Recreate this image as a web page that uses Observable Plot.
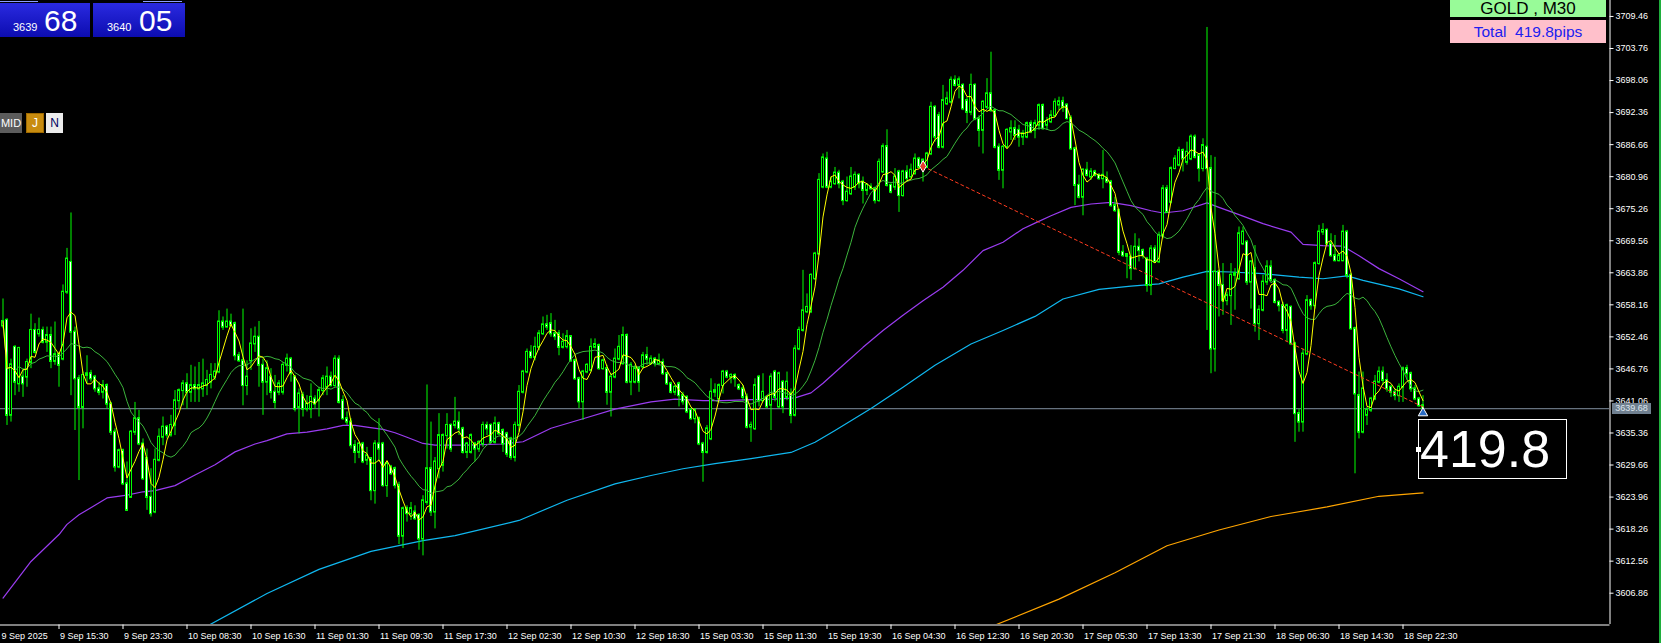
<!DOCTYPE html>
<html><head><meta charset="utf-8">
<script src="https://cdn.jsdelivr.net/npm/d3@7"></script>
<script src="https://cdn.jsdelivr.net/npm/@observablehq/plot@0.6"></script>
<style>
html,body{margin:0;padding:0;background:#000;overflow:hidden;}
#wrap{position:relative;width:1661px;height:643px;}
#chart svg{display:block}
.ov{position:absolute;font-family:"Liberation Sans",Arial,sans-serif;box-sizing:border-box;white-space:nowrap;}
</style></head><body>
<div id="wrap"><div id="chart"></div>
<div class="ov" style="left:0;top:1px;width:38px;height:1px;background:#8c9cff"></div>
<div class="ov" style="left:143px;top:1px;width:39px;height:1px;background:#8c9cff"></div>
<div class="ov" style="left:0;top:3px;width:90px;height:34px;background:linear-gradient(#2a2ae0,#0c0cb0);color:#fff">
  <span class="ov" style="left:13px;top:18px;font-size:11px">3639</span>
  <span class="ov" style="left:44px;top:3px;font-size:30px;line-height:30px">68</span></div>
<div class="ov" style="left:93px;top:3px;width:92px;height:34px;background:linear-gradient(#2a2ae0,#0c0cb0);color:#fff">
  <span class="ov" style="left:14px;top:18px;font-size:11px">3640</span>
  <span class="ov" style="left:46px;top:3px;font-size:30px;line-height:30px">05</span></div>
<div class="ov" style="left:0;top:113px;width:22px;height:20px;background:#5c5c5c;color:#fff;font-size:11px;line-height:20px;text-align:center">MID</div>
<div class="ov" style="left:26px;top:113px;width:18px;height:20px;background:#c88c10;border:1px solid #a06a00;color:#fff;font-size:12px;line-height:18px;text-align:center">J</div>
<div class="ov" style="left:46px;top:113px;width:17px;height:20px;background:#ececec;color:#000060;font-size:12px;line-height:20px;text-align:center">N</div>
<div class="ov" style="left:1450px;top:0;width:156px;height:17px;background:#98fb98;color:#000;font-size:17px;line-height:17px;text-align:center">GOLD , M30</div>
<div class="ov" style="left:1450px;top:20px;width:156px;height:23px;background:#ffc0cb;color:#2020f0;font-size:15.5px;line-height:23px;text-align:center">Total&nbsp; 419.8pips</div>
<div class="ov" style="left:1612px;top:403px;width:39px;height:11px;background:#708090;color:#dfe6ee;font-size:9px;line-height:11px;text-align:center">3639.68</div>
<div class="ov" style="left:1418px;top:419px;width:149px;height:60px;border:1px solid #fff;background:#000;color:#fff;font-size:52px;line-height:58px;padding-left:1px">419.8</div>
<div class="ov" style="left:1416px;top:447px;width:5px;height:5px;background:#fff"></div>
<div class="ov" style="left:1659px;top:0;width:2px;height:643px;background:#1fae3c"></div>
</div>
<script>
const open = [
3654.4,3655.4,3638.5,3650.6,3644.1,3645.3,3645.3,3647.9,3653.6,3653.0,
3653.6,3651.5,3652.7,3648.1,3649.3,3648.5,3660.4,3665.7,3653.3,3645.0,
3639.9,3645.6,3645.9,3645.3,3643.2,3642.6,3643.8,3640.5,3635.5,3629.3,
3632.2,3626.3,3623.9,3635.5,3637.9,3633.4,3630.8,3623.9,3621.3,3630.5,
3634.6,3636.4,3635.0,3636.7,3641.1,3642.9,3644.1,3642.6,3643.8,3643.2,
3643.2,3643.8,3644.4,3645.3,3646.2,3655.1,3654.2,3655.1,3654.8,3649.1,
3648.2,3643.8,3648.2,3651.2,3652.4,3647.4,3644.4,3645.3,3642.6,3642.6,
3642.6,3647.4,3648.5,3645.3,3639.9,3642.0,3639.6,3639.6,3641.4,3641.1,
3642.9,3643.5,3645.3,3643.8,3648.5,3641.1,3637.9,3637.3,3633.1,3631.9,
3633.4,3630.5,3630.8,3625.1,3633.4,3633.4,3626.0,3629.3,3629.0,3626.0,
3617.0,3621.9,3621.0,3621.3,3620.7,3616.5,3623.0,3629.0,3621.3,3629.0,
3629.6,3634.9,3636.7,3636.7,3637.3,3636.1,3631.9,3631.9,3633.4,3632.5,
3633.4,3636.7,3636.7,3633.7,3637.0,3635.8,3635.2,3634.3,3631.0,3636.7,
3642.6,3646.2,3649.7,3648.8,3650.6,3653.0,3654.6,3654.8,3653.0,3653.0,
3650.6,3650.7,3652.5,3648.2,3645.0,3640.9,3646.2,3646.5,3650.6,3650.9,
3646.8,3646.8,3642.6,3645.3,3648.5,3647.7,3652.7,3644.4,3644.4,3646.8,
3647.1,3649.1,3647.7,3648.5,3647.7,3647.9,3645.9,3644.1,3642.6,3644.1,
3642.0,3641.7,3639.4,3637.9,3637.9,3633.4,3631.9,3634.3,3642.6,3641.4,
3643.8,3646.2,3645.3,3645.6,3643.8,3643.2,3641.7,3636.4,3636.1,3645.3,
3641.1,3641.7,3640.3,3646.2,3640.0,3644.4,3641.7,3642.3,3638.5,3650.3,
3653.6,3656.9,3656.9,3662.8,3667.2,3679.1,3684.1,3679.1,3679.7,3681.6,
3680.0,3676.7,3677.9,3679.1,3681.2,3680.0,3678.5,3679.1,3678.8,3676.7,
3681.8,3686.3,3679.4,3679.1,3681.8,3677.6,3681.8,3680.9,3681.5,3684.1,
3682.6,3682.6,3685.0,3693.3,3691.8,3686.2,3693.9,3694.2,3698.1,3697.2,
3697.2,3694.5,3692.4,3697.2,3691.2,3689.2,3693.3,3695.7,3692.7,3686.2,
3682.1,3686.2,3688.9,3689.5,3689.2,3688.0,3688.0,3690.4,3689.2,3690.1,
3693.6,3690.1,3690.7,3691.8,3693.7,3694.3,3693.7,3691.3,3685.9,3679.4,
3677.3,3682.1,3680.9,3681.8,3681.2,3680.6,3680.6,3680.0,3675.8,3674.9,
3667.5,3667.1,3666.6,3664.6,3668.4,3667.8,3666.3,3661.6,3668.1,3665.8,
3670.5,3678.8,3676.4,3682.4,3683.0,3685.6,3683.5,3684.1,3688.0,3684.7,
3682.4,3686.2,3682.4,3650.3,3664.0,3661.6,3658.9,3659.8,3663.4,3662.8,
3669.0,3669.3,3662.2,3664.6,3654.8,3657.2,3662.2,3664.9,3662.5,3658.6,
3658.0,3653.6,3657.7,3651.2,3638.8,3637.3,3649.4,3658.9,3658.0,3665.5,
3671.1,3671.4,3669.0,3666.9,3666.0,3666.0,3671.1,3663.4,3653.9,3642.0,
3635.5,3638.5,3639.4,3641.4,3644.4,3646.2,3644.7,3643.5,3642.6,3642.0,
3643.5,3646.8,3645.9,3643.2,3641.4,3640.2];
const high = [
3659.2,3655.7,3648.5,3650.9,3650.6,3646.8,3648.5,3656.5,3654.8,3655.8,
3654.2,3654.2,3654.2,3655.1,3649.7,3661.7,3668.2,3674.5,3654.2,3645.6,
3646.2,3649.1,3646.5,3645.6,3644.4,3644.7,3644.1,3640.8,3636.1,3632.5,
3632.5,3630.2,3635.8,3640.8,3639.4,3634.3,3632.5,3629.0,3632.5,3636.1,
3638.2,3636.7,3638.5,3642.9,3643.2,3644.7,3645.9,3647.4,3647.1,3647.9,
3648.5,3646.5,3647.7,3647.7,3657.1,3656.0,3657.4,3656.5,3655.1,3649.7,
3657.4,3648.2,3653.9,3654.2,3655.2,3648.5,3648.2,3646.8,3645.6,3644.7,
3647.9,3649.4,3648.8,3645.6,3643.2,3642.6,3642.0,3644.1,3642.0,3643.5,
3645.6,3647.1,3646.2,3649.1,3649.1,3642.0,3639.1,3637.9,3634.0,3633.7,
3633.7,3632.8,3631.0,3634.0,3637.9,3633.7,3630.2,3629.6,3629.3,3626.6,
3622.2,3622.4,3623.0,3622.4,3621.0,3624.2,3643.9,3637.3,3631.0,3638.8,
3635.2,3638.8,3637.0,3641.7,3639.1,3636.4,3633.7,3635.2,3633.7,3634.0,
3637.3,3637.3,3637.0,3638.2,3637.3,3636.1,3635.5,3634.6,3637.3,3643.8,
3646.5,3650.3,3650.9,3652.4,3653.6,3656.0,3656.3,3656.6,3655.4,3653.6,
3653.0,3653.6,3652.7,3648.5,3645.3,3646.5,3647.7,3652.1,3652.1,3651.2,
3648.5,3647.4,3645.9,3650.3,3652.7,3654.2,3653.0,3647.9,3647.4,3647.1,
3649.7,3650.6,3649.1,3648.8,3649.4,3648.5,3646.2,3644.4,3643.8,3644.4,
3642.6,3642.0,3639.7,3639.7,3638.2,3633.7,3636.7,3645.0,3644.1,3644.1,
3646.5,3646.5,3645.9,3645.9,3644.1,3643.8,3642.3,3637.3,3645.0,3645.6,
3645.9,3642.0,3645.9,3646.5,3646.2,3644.7,3646.2,3643.2,3650.9,3654.2,
3664.3,3660.1,3663.7,3667.5,3681.5,3685.0,3685.3,3680.9,3682.6,3682.1,
3680.3,3680.9,3682.6,3681.8,3681.5,3680.9,3679.7,3679.7,3679.1,3684.1,
3686.8,3689.3,3679.7,3682.4,3682.1,3682.1,3682.9,3683.2,3685.0,3684.4,
3684.1,3685.3,3694.2,3693.6,3692.4,3697.2,3696.0,3698.7,3698.9,3698.7,
3697.5,3695.1,3699.2,3697.5,3691.8,3694.5,3698.4,3703.1,3693.0,3686.8,
3686.5,3689.5,3690.9,3690.9,3690.1,3689.2,3690.7,3690.9,3691.0,3693.9,
3693.9,3691.5,3692.7,3694.8,3695.1,3695.1,3693.9,3691.8,3686.2,3681.2,
3682.4,3683.5,3682.4,3682.1,3681.5,3685.6,3681.8,3680.3,3677.3,3675.2,
3668.7,3667.2,3668.7,3670.8,3669.9,3668.1,3666.6,3668.7,3668.7,3671.1,
3679.4,3679.4,3682.7,3684.7,3686.2,3685.9,3687.1,3688.4,3688.4,3685.0,
3687.7,3707.5,3684.7,3684.4,3664.3,3665.5,3660.4,3665.5,3664.6,3672.0,
3672.0,3669.6,3666.0,3668.7,3658.0,3663.4,3666.0,3666.0,3662.8,3658.9,
3658.6,3658.3,3658.0,3651.5,3639.6,3650.3,3659.8,3659.2,3665.8,3672.3,
3672.6,3671.7,3670.8,3670.5,3667.2,3672.3,3671.4,3663.7,3654.2,3646.2,
3646.2,3639.9,3641.7,3645.6,3647.1,3647.1,3645.9,3643.8,3643.2,3644.1,
3647.1,3647.4,3646.2,3643.8,3641.7,3642.0];
const low = [
3653.9,3636.7,3637.3,3642.0,3642.6,3641.7,3643.5,3646.8,3649.4,3652.4,
3651.2,3649.7,3646.8,3647.4,3643.5,3648.2,3660.0,3642.0,3635.8,3626.9,
3636.1,3644.1,3644.4,3642.6,3642.0,3641.4,3639.6,3634.9,3628.4,3629.0,
3626.0,3621.4,3623.9,3634.9,3633.1,3626.9,3621.6,3620.4,3621.0,3630.2,
3633.1,3634.3,3634.6,3634.9,3639.6,3640.2,3639.6,3640.8,3640.8,3640.8,
3641.7,3642.0,3643.2,3644.7,3645.9,3653.6,3654.2,3654.2,3648.2,3647.9,
3640.2,3642.0,3646.5,3649.7,3643.5,3638.5,3642.0,3641.4,3639.6,3642.0,
3642.1,3646.2,3644.4,3639.1,3635.2,3638.2,3639.1,3637.9,3639.6,3638.2,
3642.0,3642.0,3643.5,3643.5,3640.5,3637.6,3636.7,3632.5,3629.9,3630.8,
3629.9,3629.6,3623.3,3622.7,3630.2,3625.7,3623.9,3627.8,3625.4,3615.5,
3614.8,3619.5,3619.8,3619.8,3614.5,3613.5,3622.5,3620.5,3618.3,3627.2,
3628.4,3632.5,3631.9,3636.1,3634.9,3631.6,3630.8,3631.6,3630.2,3631.9,
3632.8,3634.9,3633.4,3633.4,3634.9,3631.9,3631.0,3630.5,3630.2,3635.5,
3642.3,3645.9,3648.5,3648.2,3650.0,3652.7,3653.6,3652.4,3651.8,3649.1,
3650.3,3650.3,3647.9,3644.7,3639.7,3637.6,3645.9,3646.2,3650.3,3646.5,
3646.5,3640.3,3638.2,3645.0,3648.2,3647.4,3644.1,3642.0,3644.1,3642.6,
3646.8,3647.4,3647.4,3647.1,3647.4,3645.6,3643.8,3642.3,3642.0,3640.0,
3640.3,3638.8,3637.6,3637.0,3633.1,3626.6,3631.6,3634.0,3641.7,3641.1,
3642.3,3645.0,3644.1,3643.5,3642.9,3641.1,3636.1,3633.7,3635.8,3640.0,
3640.9,3639.7,3635.8,3640.9,3639.7,3638.8,3641.1,3637.0,3638.2,3650.0,
3653.3,3656.6,3656.6,3662.5,3666.9,3678.8,3678.8,3678.8,3679.4,3678.8,
3675.8,3676.4,3677.6,3678.5,3678.8,3676.1,3677.6,3678.5,3676.1,3676.4,
3681.5,3679.1,3677.9,3678.5,3674.6,3677.3,3680.0,3680.6,3681.2,3682.4,
3680.0,3682.4,3684.7,3687.1,3685.9,3685.9,3693.6,3693.9,3696.9,3694.8,
3692.7,3690.4,3691.8,3690.9,3686.2,3685.0,3693.0,3692.4,3685.9,3680.3,
3678.8,3685.9,3687.4,3687.4,3686.2,3686.5,3687.7,3688.6,3687.7,3689.2,
3689.2,3689.2,3690.4,3691.5,3692.7,3692.4,3691.0,3685.6,3675.8,3677.0,
3674.0,3680.9,3680.3,3680.9,3680.3,3678.8,3679.7,3675.5,3674.6,3666.9,
3666.6,3662.8,3662.5,3664.3,3665.8,3666.3,3660.4,3659.8,3665.5,3665.5,
3669.9,3674.4,3676.1,3682.2,3682.7,3681.8,3683.0,3683.8,3684.1,3680.0,
3681.8,3653.6,3645.9,3646.2,3656.0,3656.3,3658.0,3654.5,3657.2,3662.5,
3668.7,3661.6,3657.4,3653.3,3651.8,3656.9,3661.6,3662.2,3658.3,3656.9,
3653.0,3651.5,3650.9,3633.7,3635.5,3635.5,3649.1,3657.2,3657.4,3665.2,
3670.5,3668.7,3666.6,3665.8,3665.8,3665.8,3662.8,3653.6,3628.1,3634.3,
3635.2,3636.7,3639.0,3641.1,3644.1,3643.8,3642.6,3641.7,3641.1,3640.8,
3640.8,3644.7,3642.6,3641.1,3639.9,3639.4];
const close = [
3655.2,3638.5,3647.5,3644.4,3650.4,3644.1,3647.9,3653.6,3649.7,3653.6,
3651.5,3652.7,3648.1,3649.3,3647.4,3660.4,3666.3,3653.3,3645.0,3639.9,
3645.6,3645.9,3645.0,3643.2,3642.6,3643.8,3640.5,3635.5,3629.3,3632.2,
3626.3,3621.6,3635.5,3637.9,3633.4,3627.2,3623.9,3621.0,3630.5,3634.6,
3636.4,3635.0,3636.7,3641.1,3642.9,3644.1,3642.6,3643.8,3643.2,3643.8,
3644.1,3644.7,3645.6,3646.2,3655.1,3654.2,3655.1,3654.5,3649.1,3648.2,
3643.8,3645.3,3651.2,3652.4,3647.4,3644.4,3646.8,3642.6,3640.8,3644.1,
3647.4,3648.5,3645.9,3639.6,3642.3,3639.6,3640.5,3641.7,3640.5,3642.9,
3645.0,3645.3,3643.8,3648.5,3640.8,3637.9,3637.3,3633.1,3631.9,3633.4,
3630.2,3631.3,3625.1,3633.4,3632.5,3626.0,3629.9,3628.1,3626.0,3617.0,
3621.9,3621.0,3621.9,3620.1,3616.5,3623.3,3629.0,3621.3,3630.2,3634.9,
3634.9,3636.7,3632.5,3637.3,3636.1,3631.9,3633.4,3634.9,3632.5,3633.7,
3636.7,3636.1,3633.7,3637.0,3635.2,3633.4,3631.6,3631.0,3636.7,3642.6,
3646.2,3649.7,3648.8,3650.6,3653.0,3654.6,3654.2,3653.0,3652.5,3650.6,
3651.5,3652.5,3648.2,3645.0,3640.9,3646.2,3647.4,3650.6,3651.1,3646.8,
3648.2,3642.6,3645.3,3648.5,3650.6,3652.7,3644.4,3647.4,3646.8,3644.4,
3649.1,3648.5,3648.5,3647.7,3648.2,3645.9,3644.1,3642.6,3643.5,3642.0,
3640.9,3639.1,3637.9,3639.4,3633.4,3631.9,3636.1,3642.6,3642.9,3643.8,
3646.2,3645.3,3645.6,3645.0,3643.2,3641.7,3636.4,3636.7,3643.8,3641.1,
3642.6,3640.0,3645.3,3641.7,3645.9,3640.0,3644.4,3638.5,3650.3,3653.6,
3657.1,3657.7,3663.4,3667.2,3680.3,3684.3,3679.1,3680.0,3681.6,3679.7,
3676.7,3678.2,3680.9,3681.2,3679.7,3678.5,3679.4,3678.8,3676.7,3683.5,
3686.3,3679.4,3678.2,3680.9,3677.6,3681.8,3680.6,3682.1,3684.1,3682.6,
3683.9,3685.0,3693.3,3688.0,3686.2,3694.5,3694.8,3698.1,3697.2,3698.2,
3693.0,3692.4,3697.2,3691.2,3689.2,3694.2,3695.7,3692.7,3686.2,3682.1,
3686.2,3689.2,3689.5,3688.3,3688.0,3688.6,3690.4,3688.9,3690.4,3693.6,
3689.5,3690.8,3691.8,3694.2,3694.3,3693.3,3691.3,3685.9,3679.4,3677.3,
3682.1,3681.2,3681.8,3681.2,3680.6,3681.2,3680.0,3675.8,3674.9,3667.5,
3666.9,3666.8,3664.6,3668.4,3667.8,3666.9,3661.6,3668.1,3665.8,3670.5,
3678.8,3674.6,3682.4,3684.1,3685.6,3684.1,3685.3,3688.0,3684.4,3682.4,
3686.5,3682.4,3650.3,3664.0,3661.6,3658.9,3659.8,3663.4,3663.7,3670.8,
3671.1,3662.2,3665.8,3654.8,3657.2,3662.2,3664.9,3662.5,3658.6,3658.0,
3653.6,3658.0,3651.2,3638.8,3637.3,3649.4,3658.9,3658.0,3665.5,3671.1,
3671.4,3669.0,3666.9,3666.0,3666.9,3671.1,3663.4,3653.9,3642.3,3635.5,
3643.2,3639.4,3641.4,3644.4,3646.2,3644.7,3643.2,3642.6,3642.0,3643.5,
3646.8,3645.9,3643.2,3641.4,3640.2,3639.68];

// long moving averages (bar index, price)
const purpleIdx = [0,7,14,16,19,23,26,31,35,38,43,48,53,58,63,66,71,76,81,85,88,91,95,98,101,105,108,116,125,130,137,145,153,162,168,175,180,187,193,198,202,205,210,215,220,225,230,235,240,245,250,255,258,262,267,272,277,282,287,290,295,301,304,309,315,322,325,330,335,339,344,349,355];
const purpleVal = [3606.0,3612.5,3617.3,3619.1,3620.8,3622.5,3623.8,3624.3,3624.9,3625.1,3626.0,3627.9,3629.7,3632.0,3633.4,3634.0,3635.2,3635.5,3636.1,3636.7,3636.7,3636.4,3636.0,3635.4,3634.6,3633.5,3633.2,3633.2,3633.4,3633.8,3636.2,3637.9,3639.6,3640.9,3641.4,3641.1,3641.1,3641.3,3641.4,3641.6,3642.5,3644.2,3647.4,3650.6,3653.6,3656.3,3658.9,3661.3,3664.3,3667.8,3669.3,3671.7,3672.7,3674.0,3675.5,3676.1,3676.4,3675.8,3674.9,3674.5,3674.9,3676.3,3675.5,3674.2,3672.6,3671.1,3668.9,3668.7,3668.6,3666.9,3664.6,3662.8,3660.5];
const cyanIdx = [50,66,79,92,105,113,129,141,153,162,170,178,187,197,203,208,217,225,233,242,250,258,265,274,282,289,295,301,307,315,324,330,336,340,349,355];
const cyanVal = [3600.6,3606.8,3611.1,3614.3,3616.2,3617.1,3619.8,3623.4,3626.3,3627.8,3629.0,3629.9,3630.8,3631.9,3633.7,3635.8,3639.7,3643.5,3647.4,3651.2,3653.6,3656.1,3659.2,3660.9,3661.5,3661.9,3663.1,3664.1,3664.0,3663.7,3663.1,3662.8,3663.3,3662.5,3661.0,3659.6];
const orangeIdx = [246,264,278,291,304,317,331,344,355];
const orangeVal = [3600.6,3605.8,3610.5,3615.3,3618.1,3620.5,3622.2,3624.1,3624.7];

const trendIdx = [230, 355];
const trendVal = [3682.8, 3640.0];
const lastPrice = 3639.68;

const yTicks = [3709.46,3703.76,3698.06,3692.36,3686.66,3680.96,3675.26,3669.56,3663.86,3658.16,3652.46,3646.76,3641.06,3635.36,3629.66,3623.96,3618.26,3612.56,3606.86];
const xTickIdx = [-0.6,14,30,46,62,78,94,110,126,142,158,174,190,206,222,238,254,270,286,302,318,334,350];
const xTickLabels = ["9 Sep 2025","9 Sep 15:30","9 Sep 23:30","10 Sep 08:30","10 Sep 16:30","11 Sep 01:30","11 Sep 09:30","11 Sep 17:30","12 Sep 02:30","12 Sep 10:30","12 Sep 18:30","15 Sep 03:30","15 Sep 11:30","15 Sep 19:30","16 Sep 04:30","16 Sep 12:30","16 Sep 20:30","17 Sep 05:30","17 Sep 13:30","17 Sep 21:30","18 Sep 06:30","18 Sep 14:30","18 Sep 22:30"];

const bars = close.map((c, i) => ({i, o: open[i], h: high[i], l: low[i], c}));
const purple = purpleIdx.map((i, k) => ({i, p: purpleVal[k]}));
const cyan = cyanIdx.map((i, k) => ({i, p: cyanVal[k]}));
const orange = orangeIdx.map((i, k) => ({i, p: orangeVal[k]}));
const trend = trendIdx.map((i, k) => ({i, p: trendVal[k]}));
const xt = xTickIdx.map((i, k) => ({i, label: xTickLabels[k]}));

const X0 = -0.625, X1 = 401.625;
const YMIN = 3601.29, YMAX = 3712.3;
const pxY = (YMAX - YMIN) / 624;

const chart = Plot.plot({
  width: 1661, height: 643,
  marginLeft: 0, marginRight: 52, marginTop: 0, marginBottom: 19,
  style: {background: "#000", color: "#fff", fontFamily: "Liberation Sans, Arial, sans-serif", fontSize: "9px"},
  x: {domain: [X0, X1], axis: null},
  y: {domain: [YMIN, YMAX], axis: null},
  marks: [
    Plot.ruleY([lastPrice], {stroke: "#8090a0", strokeWidth: 1}),
    Plot.line(orange, {x: "i", y: "p", stroke: "#ffa500", strokeWidth: 1.2, clip: true}),
    Plot.line(cyan, {x: "i", y: "p", stroke: "#10b8f0", strokeWidth: 1.2, clip: true}),
    Plot.line(purple, {x: "i", y: "p", stroke: "#9a3cf0", strokeWidth: 1.2, clip: true}),
    Plot.ruleX(bars, {x: "i", y1: "l", y2: "h", stroke: "#00ff00", strokeWidth: 1}),
    Plot.rect(bars, {x1: d => d.i - 0.25, x2: d => d.i + 0.25, y1: "o", y2: "c",
      fill: d => d.c < d.o ? "#ffffff" : "#000000", stroke: "#00ff00", strokeWidth: 1,
      insetTop: -0.5, insetBottom: -0.5}),
    Plot.lineY(bars, Plot.windowY({k: 16, anchor: "end"}, {x: "i", y: "c", stroke: "#3cb43c", strokeWidth: 1})),
    Plot.lineY(bars, Plot.windowY({k: 4, anchor: "end"}, {x: "i", y: "c", stroke: "#ffff00", strokeWidth: 1})),
    Plot.line(trend, {x: "i", y: "p", stroke: "#ff3b1f", strokeWidth: 1, strokeDasharray: "3,3"}),
    Plot.dot([trend[0]], {x: "i", y: "p", symbol: "diamond", r: 3.5, fill: "#e8382a", stroke: "#fff", strokeWidth: 1}),
    Plot.dot([{i: 355, p: 3638.9}], {x: "i", y: "p", symbol: "triangle", r: 3.5, fill: "#2a6cc4", stroke: "#fff", strokeWidth: 1}),
    // frame: right and bottom
    Plot.ruleX([X1 + 0.125], {stroke: "#fff", strokeWidth: 1}),
    Plot.ruleY([YMIN - 0.5 * pxY], {x1: X0, x2: X1 + 0.125, stroke: "#fff", strokeWidth: 1}),
    // y ticks and labels
    Plot.ruleY(yTicks, {x1: X1 + 0.125, x2: X1 + 1.125, stroke: "#fff"}),
    Plot.text(yTicks, {x: X1, y: d => d, text: d => d.toFixed(2), dx: 6, textAnchor: "start", fill: "#fff", fontSize: 9}),
    // x ticks and labels
    Plot.ruleX(xt.slice(1), {x: "i", y1: YMIN - 0.5 * pxY, y2: YMIN - 5 * pxY, stroke: "#fff"}),
    Plot.text(xt, {x: "i", y: YMIN, text: "label", dy: 11.5, dx: 1, textAnchor: "start", lineAnchor: "middle", fill: "#fff", fontSize: 9})
  ]
});
document.getElementById("chart").appendChild(chart);
</script>
</body></html>
